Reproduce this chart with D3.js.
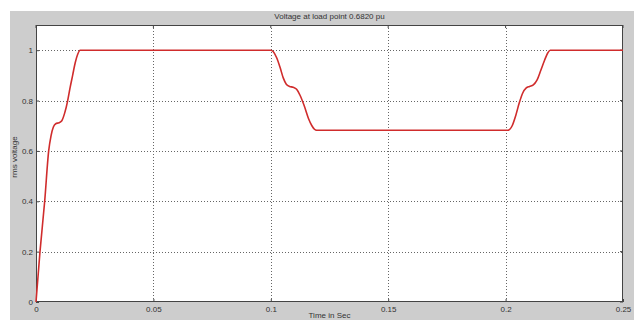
<!DOCTYPE html>
<html>
<head>
<meta charset="utf-8">
<script src="https://cdn.jsdelivr.net/npm/d3@7/dist/d3.min.js"></script>
<style>
  html, body { margin: 0; padding: 0; background: #ffffff; }
  svg { display: block; }
  text { font-family: "Liberation Sans", Arial, sans-serif; fill: #333; }
</style>
</head>
<body>
<svg id="chart" width="634" height="320"></svg>
<script>
// RMS voltage at the load point over the simulation time
const timeSec = [
  0, 0.0017, 0.0037, 0.0054, 0.0064, 0.0074, 0.0084, 0.0098, 0.0110, 0.0122,
  0.0135, 0.0145, 0.0156, 0.0167, 0.0178, 0.0188,
  0.1000, 0.1010, 0.1025, 0.1040, 0.1053, 0.1066, 0.1080, 0.1095, 0.1110,
  0.1125, 0.1142, 0.1160, 0.1175, 0.1186, 0.1195,
  0.2010, 0.2018, 0.2028, 0.2043, 0.2058, 0.2073, 0.2088, 0.2102, 0.2118,
  0.2133, 0.2150, 0.2166, 0.2180, 0.2190, 0.25
];
const rmsVoltage = [
  0, 0.2, 0.4, 0.6, 0.66, 0.695, 0.708, 0.712, 0.72, 0.75,
  0.8, 0.85, 0.9, 0.95, 0.985, 1.0,
  1.0, 0.995, 0.97, 0.93, 0.89, 0.865, 0.856, 0.853, 0.845,
  0.82, 0.78, 0.73, 0.70, 0.686, 0.682,
  0.682, 0.686, 0.70, 0.74, 0.79, 0.83, 0.85, 0.856, 0.862,
  0.88, 0.92, 0.96, 0.99, 1.0, 1.0
];
const xTicks = [0, 0.05, 0.1, 0.15, 0.2, 0.25];
const xTickLabels = ["0", "0.05", "0.1", "0.15", "0.2", "0.25"];
const yTicks = [0, 0.2, 0.4, 0.6, 0.8, 1];
const yTickLabels = ["0", "0.2", "0.4", "0.6", "0.8", "1"];
const titleText = "Voltage at load point 0.6820 pu";
const xLabelText = "Time in Sec";
const yLabelText = "rms voltage";

const svg = d3.select("#chart");
const W = 634, H = 320;
const m = { left: 36, right: 11, top: 25, bottom: 18 };
const iw = W - m.left - m.right, ih = H - m.top - m.bottom;

// grey figure background
svg.append("rect").attr("x", 10).attr("y", 11).attr("width", W - 10).attr("height", H - 11)
  .attr("fill", "#cdcdcd");

const x = d3.scaleLinear().domain([0, 0.25]).range([m.left, m.left + iw]);
const y = d3.scaleLinear().domain([0, 1.1]).range([m.top + ih, m.top]);

// plot area
svg.append("rect").attr("x", m.left).attr("y", m.top).attr("width", iw).attr("height", ih)
  .attr("fill", "#ffffff");

const g = svg.append("g");

// dotted grid
g.selectAll("line.vg").data(xTicks.slice(1, -1)).join("line")
  .attr("x1", d => Math.round(x(d)) + 0.5).attr("x2", d => Math.round(x(d)) + 0.5)
  .attr("y1", m.top).attr("y2", m.top + ih)
  .attr("stroke", "#666").attr("stroke-width", 1).attr("stroke-dasharray", "1,2");
g.selectAll("line.hg").data(yTicks.slice(1)).join("line")
  .attr("x1", m.left).attr("x2", m.left + iw)
  .attr("y1", d => Math.round(y(d)) + 0.5).attr("y2", d => Math.round(y(d)) + 0.5)
  .attr("stroke", "#666").attr("stroke-width", 1).attr("stroke-dasharray", "1,2");

// axes with inward ticks
const xAxis = d3.axisBottom(x).tickValues(xTicks).tickSizeInner(-3).tickSizeOuter(0)
  .tickFormat((d, i) => xTickLabels[i]);
const yAxis = d3.axisLeft(y).tickValues(yTicks).tickSizeInner(-3).tickSizeOuter(0)
  .tickFormat((d, i) => yTickLabels[i]);

const gx = svg.append("g").attr("transform", `translate(0,${m.top + ih})`).call(xAxis);
const gy = svg.append("g").attr("transform", `translate(${m.left},0)`).call(yAxis);
[gx, gy].forEach(a => {
  a.select(".domain").remove();
  a.selectAll("line").attr("stroke", "#444");
  a.selectAll("text").attr("font-size", 8).attr("fill", "#333")
    .style("font-family", "'Liberation Sans', Arial, sans-serif");
});
gx.selectAll("text").attr("dy", "0.9em").attr("y", 3);
gy.selectAll("text").attr("x", -3);

// right and top ticks
svg.append("g").selectAll("line").data(yTicks).join("line")
  .attr("x1", m.left + iw - 3).attr("x2", m.left + iw)
  .attr("y1", d => y(d)).attr("y2", d => y(d)).attr("stroke", "#444");
svg.append("g").selectAll("line").data(xTicks).join("line")
  .attr("x1", d => x(d)).attr("x2", d => x(d))
  .attr("y1", m.top).attr("y2", m.top + 3).attr("stroke", "#444");

// axes box
svg.append("rect").attr("x", m.left + 0.5).attr("y", m.top + 0.5)
  .attr("width", iw - 1).attr("height", ih - 1)
  .attr("fill", "none").attr("stroke", "#444").attr("stroke-width", 1);

// voltage trace
const pts = timeSec.map((t, i) => [t, rmsVoltage[i]]);
svg.append("path").datum(pts)
  .attr("fill", "none").attr("stroke", "#d02c2c").attr("stroke-width", 1.6)
  .attr("d", d3.line().x(d => x(d[0])).y(d => y(d[1])).curve(d3.curveMonotoneX));

// titles
svg.append("text").attr("x", m.left + iw / 2).attr("y", 19).attr("text-anchor", "middle")
  .attr("font-size", 8).text(titleText);
svg.append("text").attr("x", m.left + iw / 2).attr("y", 318).attr("text-anchor", "middle")
  .attr("font-size", 8).text(xLabelText);
svg.append("text").attr("transform", "translate(17,157) rotate(-90)").attr("text-anchor", "middle")
  .attr("font-size", 8).text(yLabelText);
</script>
</body>
</html>
